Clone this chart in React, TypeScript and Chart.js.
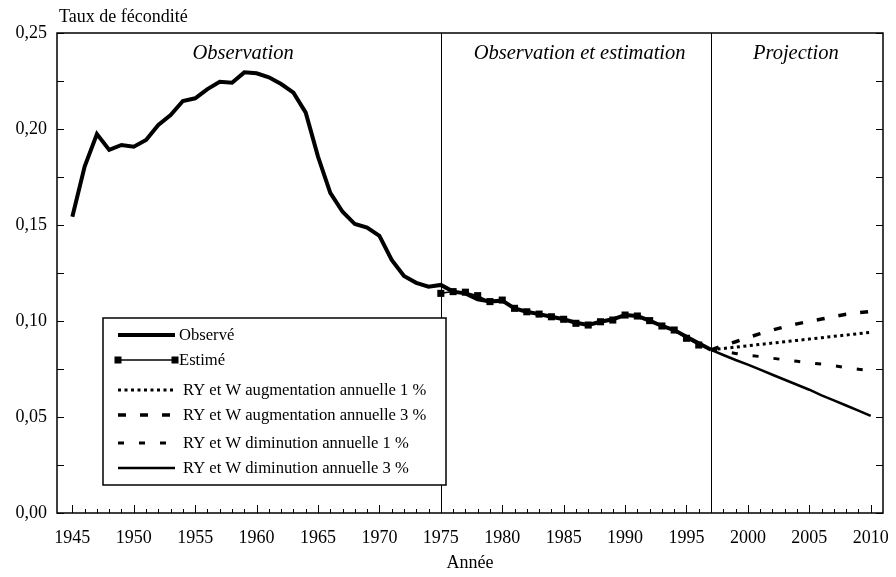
import { useEffect, useRef } from 'react';
import { Chart, registerables } from 'chart.js';

Chart.register(...registerables);

// ---- Data ----
const observedStartYear = 1945;
const observedValues = [
  0.1543, 0.1804, 0.1974, 0.1891, 0.1917, 0.1908, 0.1943, 0.2021, 0.2073, 0.2146,
  0.2160, 0.2208, 0.2246, 0.2241, 0.2295, 0.2290, 0.2269, 0.2234, 0.2189, 0.2085,
  0.1856, 0.1667, 0.1569, 0.1505, 0.1486, 0.1443, 0.1318, 0.1234, 0.1199, 0.1179,
  0.1188, 0.1153, 0.1144, 0.1113, 0.1101, 0.1106, 0.1066, 0.1048, 0.1036, 0.1022,
  0.1009, 0.0991, 0.0979, 0.0996, 0.1009, 0.1031, 0.1026, 0.1002, 0.0974, 0.0953,
  0.0918, 0.0884, 0.0850,
];
const estimatedStartYear = 1975;
const estimatedValues = [
  0.1144, 0.1153, 0.1150, 0.1132, 0.1101, 0.1109, 0.1066, 0.1048, 0.1036, 0.1022,
  0.1009, 0.0988, 0.0979, 0.0996, 0.1005, 0.1031, 0.1026, 0.1002, 0.0974, 0.0953,
  0.0910, 0.0875,
];
const projectionStartYear = 1997;
const projAug1 = [0.0850, 0.0857, 0.0864, 0.0871, 0.0878, 0.0885, 0.0892, 0.0899, 0.0906, 0.0913, 0.0920, 0.0927, 0.0934, 0.0941];
const projAug3 = [0.0850, 0.0872, 0.0892, 0.0914, 0.0934, 0.0953, 0.0970, 0.0985, 0.0998, 0.1010, 0.1023, 0.1035, 0.1043, 0.1050];
const projDim1 = [0.0850, 0.0841, 0.0831, 0.0821, 0.0815, 0.0806, 0.0798, 0.0790, 0.0782, 0.0776, 0.0767, 0.0757, 0.0749, 0.0742];
const projDim3 = [0.0850, 0.0823, 0.0797, 0.0773, 0.0747, 0.0720, 0.0694, 0.0668, 0.0642, 0.0613, 0.0587, 0.0560, 0.0533, 0.0506];

const seriesLabels = [
  'Observé',
  'Estimé',
  'RY et W augmentation annuelle 1 %',
  'RY et W augmentation annuelle 3 %',
  'RY et W diminution annuelle 1 %',
  'RY et W diminution annuelle 3 %',
];
const regionLabels = ['Observation', 'Observation et estimation', 'Projection'];
const regionLabelYears = [1958.9, 1986.3, 2003.9];
const separatorYears = [1975, 1997];
const yAxisTitle = 'Taux de fécondité';
const xAxisTitle = 'Année';

const FONT = '"Liberation Serif", "Times New Roman", serif';

const toPoints = (start: number, vals: number[]) => vals.map((v, i) => ({ x: start + i, y: v }));

const decorPlugin = {
  id: 'decor',
  beforeDatasetsDraw(chart: any) {
    const { ctx, chartArea: a, scales } = chart;
    const xs = scales.x;
    ctx.save();
    ctx.strokeStyle = '#000';
    ctx.lineWidth = 1;
    separatorYears.forEach((yr) => {
      const px = Math.round(xs.getPixelForValue(yr)) + 0.5;
      ctx.beginPath();
      ctx.moveTo(px, a.top);
      ctx.lineTo(px, a.bottom);
      ctx.stroke();
    });
    ctx.fillStyle = '#000';
    ctx.font = `italic 20.5px ${FONT}`;
    ctx.textAlign = 'center';
    ctx.textBaseline = 'alphabetic';
    regionLabels.forEach((t, i) => {
      ctx.fillText(t, xs.getPixelForValue(regionLabelYears[i]), a.top + 26);
    });
    ctx.restore();
  },
  afterDatasetsDraw(chart: any) {
    const { ctx, chartArea: a, scales } = chart;
    const xs = scales.x;
    const ys = scales.y;
    ctx.save();
    ctx.strokeStyle = '#000';
    // ticks
    ctx.lineWidth = 1;
    for (let i = 0; i <= 10; i++) {
      const py = Math.round(ys.getPixelForValue(i * 0.025)) + 0.5;
      ctx.beginPath();
      ctx.moveTo(a.left, py);
      ctx.lineTo(a.left + 7, py);
      ctx.moveTo(a.right, py);
      ctx.lineTo(a.right - 7, py);
      ctx.stroke();
    }
    for (let yr = 1945; yr <= 2010; yr++) {
      const px = Math.round(xs.getPixelForValue(yr)) + 0.5;
      const len = yr % 5 === 0 ? 8 : 4;
      ctx.beginPath();
      ctx.moveTo(px, a.bottom);
      ctx.lineTo(px, a.bottom - len);
      ctx.stroke();
    }
    // frame
    ctx.lineWidth = 1.5;
    ctx.strokeRect(a.left, a.top, a.right - a.left, a.bottom - a.top);

    // y title
    ctx.fillStyle = '#000';
    ctx.font = `18px ${FONT}`;
    ctx.textAlign = 'left';
    ctx.textBaseline = 'alphabetic';
    ctx.fillText(yAxisTitle, a.left + 2, a.top - 11);

    // legend box
    const bx = a.left + 46;
    const by = a.top + 285;
    const bw = 343;
    const bh = 167;
    ctx.fillStyle = '#fff';
    ctx.fillRect(bx, by, bw, bh);
    ctx.lineWidth = 1.5;
    ctx.strokeRect(bx, by, bw, bh);
    const rowOffsets = [17, 42, 72, 97, 125, 150];
    const textOffsets = [76, 76, 80, 80, 80, 80];
    chart.data.datasets.forEach((ds: any, i: number) => {
      const ry = by + rowOffsets[i];
      const x0 = bx + 15;
      const x1 = bx + 72;
      ctx.save();
      ctx.strokeStyle = ds.borderColor;
      ctx.lineWidth = ds.borderWidth;
      ctx.setLineDash(ds.borderDash || []);
      ctx.beginPath();
      ctx.moveTo(x0, ry);
      ctx.lineTo(x1, ry);
      ctx.stroke();
      ctx.restore();
      if (ds.pointRadius > 0) {
        const s = 7;
        ctx.fillStyle = '#000';
        ctx.fillRect(x0 - s / 2, ry - s / 2, s, s);
        ctx.fillRect(x1 - s / 2, ry - s / 2, s, s);
      }
      ctx.fillStyle = '#000';
      ctx.font = `16.6px ${FONT}`;
      ctx.textAlign = 'left';
      ctx.textBaseline = 'middle';
      ctx.fillText(ds.label, bx + textOffsets[i], ry + 1);
    });
    ctx.restore();
  },
};

export default function App() {
  const ref = useRef<HTMLCanvasElement | null>(null);
  useEffect(() => {
    if (!ref.current) return;
    const chart = new Chart(ref.current, {
      type: 'line',
      data: {
        datasets: [
          {
            label: seriesLabels[0],
            data: toPoints(observedStartYear, observedValues),
            borderColor: '#000',
            borderWidth: 4,
            pointRadius: 0,
            tension: 0,
            order: 1,
          },
          {
            label: seriesLabels[1],
            data: toPoints(estimatedStartYear, estimatedValues),
            borderColor: '#000',
            backgroundColor: '#000',
            borderWidth: 1.5,
            pointRadius: 5,
            pointStyle: 'rect',
            pointBorderWidth: 0,
            tension: 0,
            order: 0,
          },
          {
            label: seriesLabels[2],
            data: toPoints(projectionStartYear, projAug1),
            borderColor: '#000',
            borderWidth: 3,
            borderDash: [3, 3.5],
            pointRadius: 0,
            tension: 0,
            order: 2,
          },
          {
            label: seriesLabels[3],
            data: toPoints(projectionStartYear, projAug3),
            borderColor: '#000',
            borderWidth: 3.5,
            borderDash: [8, 14],
            pointRadius: 0,
            tension: 0,
            order: 2,
          },
          {
            label: seriesLabels[4],
            data: toPoints(projectionStartYear, projDim1),
            borderColor: '#000',
            borderWidth: 3,
            borderDash: [6, 15],
            pointRadius: 0,
            tension: 0,
            order: 2,
          },
          {
            label: seriesLabels[5],
            data: toPoints(projectionStartYear, projDim3),
            borderColor: '#000',
            borderWidth: 2.5,
            pointRadius: 0,
            tension: 0,
            order: 2,
          },
        ] as any,
      },
      options: {
        responsive: false,
        animation: false,
        devicePixelRatio: 1,
        layout: { padding: { left: 0, right: 3, top: 25, bottom: 0 } },
        plugins: { legend: { display: false }, tooltip: { enabled: false }, title: { display: false } },
        scales: {
          x: {
            type: 'linear',
            min: 1943.75,
            max: 2011,
            grid: { display: false, drawTicks: false },
            border: { display: false },
            ticks: {
              stepSize: 5,
              includeBounds: false,
              autoSkip: false,
              maxRotation: 0,
              padding: 14,
              color: '#000',
              font: { family: FONT, size: 18 },
              callback: (v: any) => String(v),
            },
            title: {
              display: true,
              text: xAxisTitle,
              color: '#000',
              font: { family: FONT, size: 18, lineHeight: 0.6 },
              padding: { top: 0, bottom: 0 },
            },
            afterFit: (s: any) => {
              s.height = 56;
              s.paddingLeft = 0;
              s.paddingRight = 0;
            },
          },
          y: {
            type: 'linear',
            min: 0,
            max: 0.25,
            grid: { display: false, drawTicks: false },
            border: { display: false },
            ticks: {
              stepSize: 0.05,
              padding: 10,
              color: '#000',
              font: { family: FONT, size: 18 },
              callback: (v: any) => Number(v).toFixed(2).replace('.', ','),
            },
            afterFit: (s: any) => {
              s.width = 49;
              s.paddingTop = 0;
              s.paddingBottom = 0;
            },
          },
        },
      } as any,
      plugins: [decorPlugin],
    });
    return () => chart.destroy();
  }, []);
  return (
    <div style={{ width: 880, height: 561 }}>
      <canvas ref={ref} width={880} height={561} style={{ display: 'block' }} />
    </div>
  );
}
